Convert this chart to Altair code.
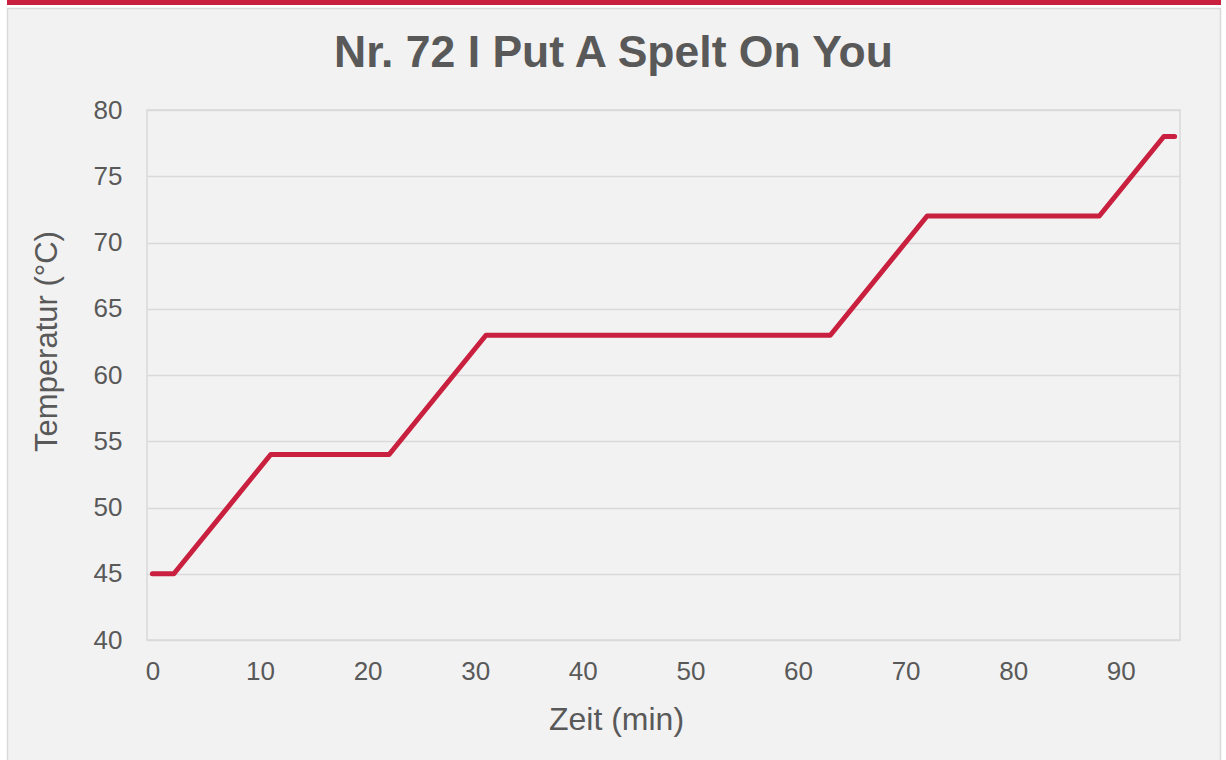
import altair as alt
import pandas as pd

# Data
time_min = [0, 2, 11, 22, 31, 63, 72, 88, 94, 95]
temp_c = [45, 45, 54, 54, 63, 63, 72, 72, 78, 78]
x_ticks = [0, 10, 20, 30, 40, 50, 60, 70, 80, 90]
y_ticks = [40, 45, 50, 55, 60, 65, 70, 75, 80]

df = pd.DataFrame({"Zeit": time_min, "Temperatur": temp_c})

W, H = 1033, 530
PL, PT, PR, PB = 147, 110, 46, 120
GREY = "#595959"
FONT = "Liberation Sans"

one = pd.DataFrame({"k": [0]})

def deco(x0, x1, y0, y1, fill, stroke=None):
    kw = dict(fill=fill)
    if stroke:
        kw = dict(fillOpacity=0, stroke=stroke, strokeWidth=1.5)
    return alt.Chart(one).mark_rect(clip=False, **kw).encode(
        x=alt.value(x0), x2=alt.value(x1), y=alt.value(y0), y2=alt.value(y1)
    )

top_white = deco(-PL, W + PR, -PT, -PT + 8, "#ffffff")
red_bar = deco(-PL, W + PR, -PT, -PT + 5, "#c8203e")
left_white = deco(-PL, -PL + 7, -PT, H + PB, "#ffffff")
right_white = deco(W + PR - 5, W + PR, -PT, H + PB, "#ffffff")
card = deco(-PL + 7.5, W + PR - 5.5, -PT + 8.5, H + PB + 5, None, stroke="#d9d9d9")

line = alt.Chart(df).mark_line(
    color="#c8203e", strokeWidth=5, strokeCap="round", strokeJoin="round"
).encode(
    x=alt.X(
        "Zeit:Q",
        scale=alt.Scale(domain=[-0.5, 95.5], nice=False, zero=False),
        axis=alt.Axis(
            values=x_ticks, grid=False, ticks=False, domain=False,
            labelFontSize=26, labelColor=GREY, labelFont=FONT, labelPadding=18,
            title="Zeit (min)", titleFontSize=32, titleFont=FONT, titleColor=GREY,
            titleFontWeight="normal", titleX=469, titleY=89,
            titleBaseline="alphabetic", titleAlign="center",
        ),
    ),
    y=alt.Y(
        "Temperatur:Q",
        scale=alt.Scale(domain=[40, 80], nice=False, zero=False),
        axis=alt.Axis(
            values=y_ticks, grid=True, gridColor="#d9d9d9", gridWidth=1.5,
            ticks=False, domain=False,
            labelFontSize=26, labelColor=GREY, labelFont=FONT, labelPadding=25,
            title="Temperatur (°C)", titleFontSize=31, titleFont=FONT, titleColor=GREY,
            titleFontWeight="normal", titleX=-91, titleY=231, titleAngle=-90,
            titleBaseline="alphabetic", titleAlign="center",
        ),
    ),
)

chart = alt.layer(top_white, red_bar, left_white, right_white, card, line).properties(
    width=W, height=H,
    title=alt.TitleParams(
        "Nr. 72 I Put A Spelt On You", fontSize=44.5, font=FONT, fontWeight="bold",
        color=GREY, anchor="middle", dx=-50, offset=-111, baseline="alphabetic",
    ),
    padding={"left": PL, "top": PT, "right": PR, "bottom": PB},
    autosize=alt.AutoSizeParams(type="none"),
    background="#f2f2f2",
).configure_view(stroke="#d9d9d9", strokeWidth=1.5)

chart.save("out.html", embed_options={"renderer": "svg", "actions": False})
